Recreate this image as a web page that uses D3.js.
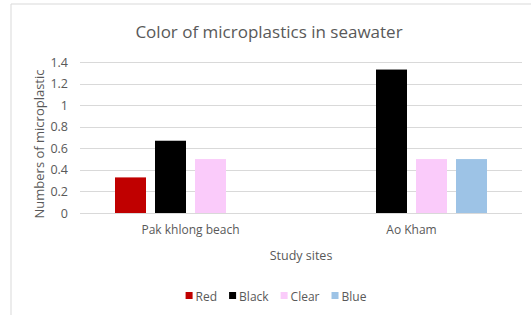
<!DOCTYPE html>
<html>
<head>
<meta charset="utf-8">
<script src="https://cdn.jsdelivr.net/npm/d3@7"></script>
<style>
  body { margin: 0; background: #fff; }
  text { font-family: "Open Sans", sans-serif; fill: #595959; }
</style>
</head>
<body>
<div id="chart"></div>
<script>
// data
var sites = ["Pak khlong beach", "Ao Kham"]
var colours = ["Red", "Black", "Clear", "Blue"]
var redVals = [0.33, 0]
var blackVals = [0.67, 1.33]
var clearVals = [0.5, 0.5]
var blueVals = [0, 0.5]
var yTicks = [0, 0.2, 0.4, 0.6, 0.8, 1, 1.2, 1.4]

var fills = {Red: "#C00000", Black: "#000000", Clear: "#FACBFA", Blue: "#9DC3E6"}

var width = 531, height = 315
var margin = {top: 62, right: 9, bottom: 102, left: 80}

var svg = d3.select("#chart").append("svg")
  .attr("width", width)
  .attr("height", height)

// outer chart border (top + left visible)
svg.append("line").attr("x1", 11).attr("x2", width).attr("y1", 4).attr("y2", 4)
  .attr("stroke", "#d9d9d9")
svg.append("line").attr("x1", 11).attr("x2", 11).attr("y1", 4).attr("y2", height)
  .attr("stroke", "#d9d9d9")

var rows = sites.map(function(s, i) {
  return {site: s, Red: redVals[i], Black: blackVals[i], Clear: clearVals[i], Blue: blueVals[i]}
})

var x0 = d3.scaleBand().domain(sites).range([margin.left, width - margin.right])
var x1 = d3.scaleBand().domain(colours).range([0, 160]).paddingInner(0.225).paddingOuter(0.1125)
var y = d3.scaleLinear().domain([0, 1.4]).range([height - margin.bottom, margin.top])

// gridlines
svg.append("g").selectAll("line").data(yTicks).enter().append("line")
  .attr("x1", margin.left).attr("x2", width - margin.right)
  .attr("y1", function(d) { return Math.round(y(d)) + 0.5 })
  .attr("y2", function(d) { return Math.round(y(d)) + 0.5 })
  .attr("stroke", "#d9d9d9")

// y axis labels
var yAxis = d3.axisLeft(y).tickValues(yTicks).tickSize(0).tickPadding(12)
  .tickFormat(function(d) { return d3.format("")(d) })
var ya = svg.append("g").attr("transform", "translate(" + margin.left + ",0)").call(yAxis)
ya.select(".domain").remove()
ya.selectAll("text").style("font-size", "12.5px").attr("fill", "#595959")

// bars
svg.append("g").selectAll("g").data(rows).enter().append("g")
  .attr("transform", function(d) { return "translate(" + (x0(d.site) + x0.bandwidth() / 2 - 80) + ",0)" })
  .selectAll("rect")
  .data(function(d) { return colours.map(function(c) { return {key: c, value: d[c]} }) })
  .enter().append("rect")
    .attr("x", function(d) { return x1(d.key) })
    .attr("width", x1.bandwidth())
    .attr("y", function(d) { return y(d.value) })
    .attr("height", function(d) { return y(0) - y(d.value) })
    .attr("fill", function(d) { return fills[d.key] })

// x axis labels
var xAxis = d3.axisBottom(x0).tickSize(0).tickPadding(12)
var xa = svg.append("g").attr("transform", "translate(0," + y(0) + ")").call(xAxis)
xa.select(".domain").remove()
xa.selectAll("text").style("font-size", "12px").attr("fill", "#595959")

// title
svg.append("text")
  .attr("x", 269).attr("y", 38)
  .attr("text-anchor", "middle")
  .style("font-size", "17px")
  .text("Color of microplastics in seawater")

// axis titles
svg.append("text")
  .attr("x", 301).attr("y", 260)
  .attr("text-anchor", "middle")
  .style("font-size", "12.5px")
  .text("Study sites")

svg.append("text")
  .attr("transform", "translate(44,144) rotate(-90)")
  .attr("text-anchor", "middle")
  .style("font-size", "13px")
  .text("Numbers of microplastic")

// legend, laid out from measured text widths and centred
var legendG = svg.append("g")
var items = legendG.selectAll("g").data(colours).enter().append("g")
items.append("rect").attr("width", 7).attr("height", 7).attr("fill", function(d) { return fills[d] })
items.append("text").attr("x", 10).attr("y", 8.5).style("font-size", "12px").text(function(d) { return d })
var cursor = 0
items.each(function() {
  var w = d3.select(this).select("text").node().getComputedTextLength()
  d3.select(this).attr("transform", "translate(" + cursor + ",292)")
  cursor += 10 + w + 12
})
legendG.attr("transform", "translate(" + (276 - (cursor - 12) / 2) + ",0)")
</script>
</body>
</html>
